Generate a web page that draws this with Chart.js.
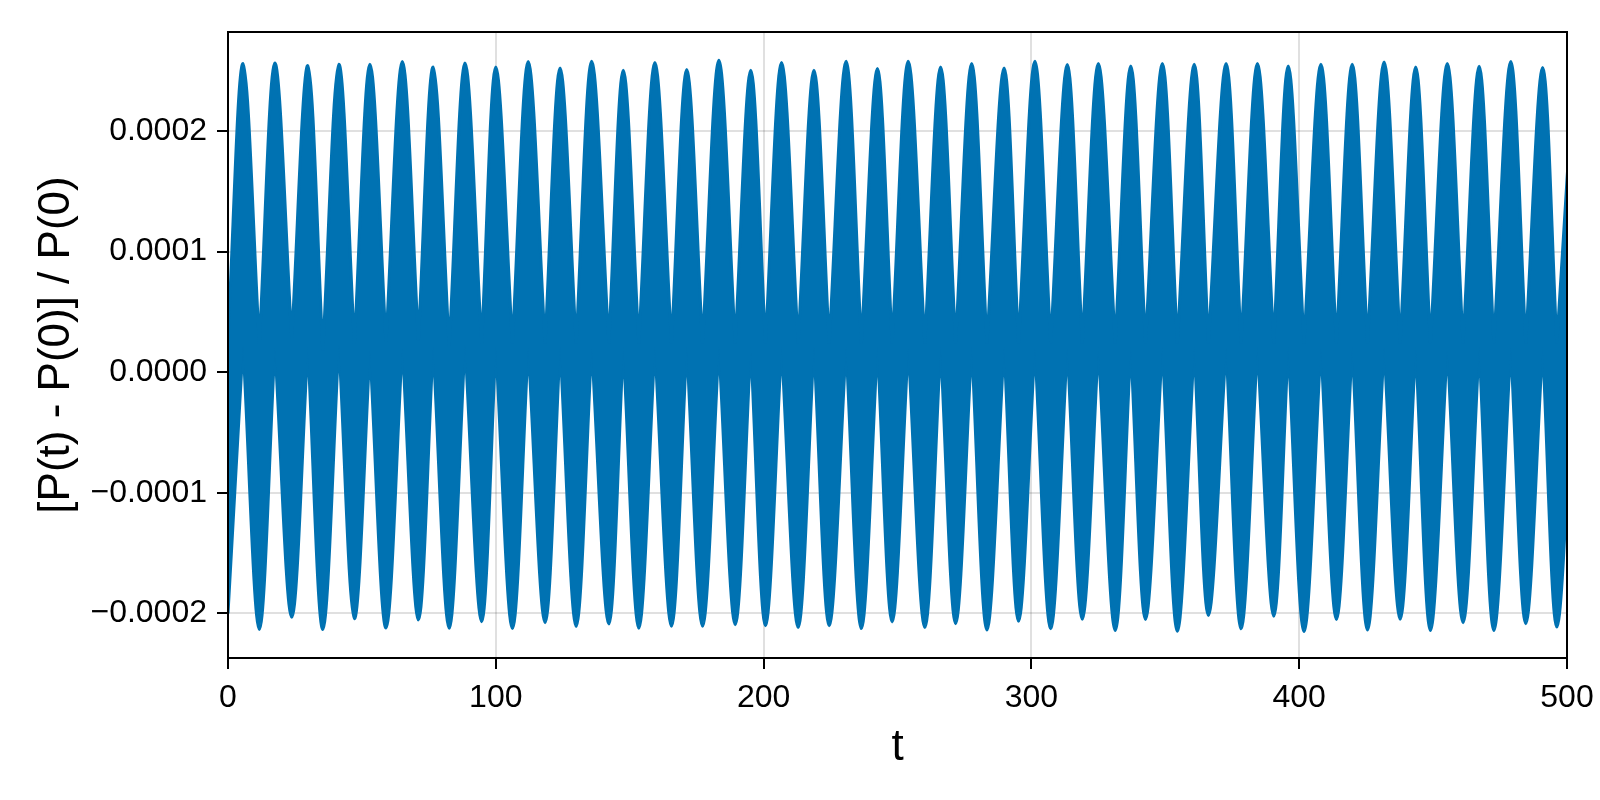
<!DOCTYPE html>
<html><head><meta charset="utf-8">
<script src="https://cdn.jsdelivr.net/npm/chart.js@4.4.1/dist/chart.umd.min.js"></script>
<style>html,body{margin:0;padding:0;background:#fff}#wrap{width:1600px;height:800px;position:relative}</style>
</head><body><div id="wrap"><canvas id="c"></canvas></div>
<script>
// Upper-envelope peaks (time, value)
const peakT = [5.6,17.5,29.8,41.4,53.0,65.1,76.6,88.5,100.0,112.1,124.0,135.8,147.6,159.4,171.3,183.3,195.2,206.7,218.8,230.8,242.5,254.0,266.1,277.7,289.8,301.3,313.4,325.0,337.1,348.9,360.8,372.7,384.4,395.9,408.1,419.8,431.7,443.5,455.3,467.2,479.0,490.9,502.7];
const peakV = [0.0002559,0.0002564,0.0002542,0.0002553,0.0002553,0.0002575,0.0002530,0.0002564,0.0002530,0.0002575,0.0002522,0.0002578,0.0002503,0.0002567,0.0002509,0.0002586,0.0002503,0.0002567,0.0002503,0.0002578,0.0002517,0.0002578,0.0002530,0.0002559,0.0002522,0.0002578,0.0002550,0.0002559,0.0002539,0.0002559,0.0002553,0.0002559,0.0002559,0.0002539,0.0002553,0.0002553,0.0002572,0.0002530,0.0002559,0.0002536,0.0002575,0.0002525,0.0002560];
// Lower-envelope troughs (time, value)
const troughT = [0,11.7,23.8,35.4,47.2,59.0,71.1,82.6,94.7,106.2,118.4,130.0,142.2,153.4,165.6,177.2,189.4,200.7,212.9,224.5,236.5,248.0,260.2,271.7,283.4,295.2,307.2,319.0,331.3,342.6,354.5,366.1,378.3,390.5,401.8,413.9,425.5,437.7,449.0,461.2,472.7,484.6,496.2];
const troughV = [-0.0002000,-0.0002133,-0.0002033,-0.0002133,-0.0002044,-0.0002122,-0.0002055,-0.0002124,-0.0002069,-0.0002126,-0.0002077,-0.0002108,-0.0002088,-0.0002123,-0.0002106,-0.0002106,-0.0002094,-0.0002103,-0.0002117,-0.0002103,-0.0002126,-0.0002071,-0.0002117,-0.0002086,-0.0002137,-0.0002066,-0.0002128,-0.0002049,-0.0002143,-0.0002051,-0.0002148,-0.0002017,-0.0002128,-0.0002023,-0.0002151,-0.0002051,-0.0002137,-0.0002049,-0.0002143,-0.0002077,-0.0002143,-0.0002086,-0.0002114];
// Upper envelope minimum (at trough times) and lower envelope maximum (at peak times)
const upperAtTrough = [0.0000300,0.0000238,0.0000279,0.0000182,0.0000238,0.0000250,0.0000265,0.0000210,0.0000238,0.000024,0.000024,0.000024,0.000024,0.000024,0.000024,0.000024,0.000024,0.000024,0.000024,0.000024,0.000024,0.000024,0.000024,0.000024,0.000024,0.000024,0.000024,0.000024,0.000024,0.000024,0.000024,0.000024,0.000024,0.000024,0.000024,0.000024,0.000024,0.000024,0.000024,0.000024,0.000024,0.000024,0.000024];
const lowerAtPeak = [0.000022,0.000021,0.000021,0.000024,0.000018,0.000022,0.000021,0.000023,0.000021,0.000021,0.000021,0.000021,0.000021,0.000021,0.000021,0.000021,0.000021,0.000021,0.000021,0.000021,0.000021,0.000021,0.000021,0.000021,0.000021,0.000021,0.000021,0.000021,0.000021,0.000021,0.000021,0.000021,0.000021,0.000021,0.000021,0.000021,0.000021,0.000021,0.000021,0.000021,0.000021,0.000021,0.000021];

const xTicks = [0,100,200,300,400,500];
const xTickLabels = ['0','100','200','300','400','500'];
const yTicks = [-0.0002,-0.0001,0,0.0001,0.0002];
const yTickLabels = ['\u22120.0002','\u22120.0001','0.0000','0.0001','0.0002'];
const xLabel = 't';
const yLabel = '[P(t) - P(0)] / P(0)';

const FONT = "'Liberation Sans', Arial, sans-serif";
const BLUE = '#0072B2';

// Envelopes: the envelope minima are sharp (cusp), so their vertex is listed
// twice to make the spline corner there; maxima stay rounded.
const upper = [], lower = [];
const n = troughT.length;
for (let i = 0; i < n; i++) {
  const u = {x: troughT[i], y: upperAtTrough[i]};
  upper.push(u);
  if (i > 0) upper.push({x: u.x, y: u.y});
  lower.push({x: troughT[i], y: troughV[i]});
  if (i < peakT.length) {
    upper.push({x: peakT[i], y: peakV[i]});
    const l = {x: peakT[i], y: lowerAtPeak[i]};
    lower.push(l);
    if (i < peakT.length - 1) lower.push({x: l.x, y: l.y});
  }
}

const frame = {
  id: 'frame',
  afterDatasetsDraw(chart) {
    const {ctx, chartArea: a} = chart;
    ctx.save();
    ctx.strokeStyle = '#000';
    ctx.lineWidth = 2;
    ctx.strokeRect(a.left, a.top, a.right - a.left, a.bottom - a.top);
    ctx.restore();
  }
};

new Chart(document.getElementById('c'), {
  type: 'line',
  data: {
    datasets: [
      {data: upper, borderColor: BLUE, backgroundColor: BLUE, borderWidth: 3, pointRadius: 0,
       fill: '+1', tension: 0.35, clip: 0},
      {data: lower, borderColor: BLUE, backgroundColor: BLUE, borderWidth: 3, pointRadius: 0,
       fill: false, tension: 0.35, clip: 0}
    ]
  },
  options: {
    responsive: true,
    maintainAspectRatio: false,
    animation: false,
    events: [],
    layout: {padding: {top: 32, right: 33, left: 0, bottom: 0}},
    plugins: {legend: {display: false}, tooltip: {enabled: false}},
    scales: {
      x: {
        type: 'linear', min: 0, max: 500,
        afterBuildTicks: s => { s.ticks = xTicks.map(v => ({value: v})); },
        afterFit: s => { s.height = 142; s.paddingLeft = 0; s.paddingRight = 0; },
        grid: {color: 'rgba(0,0,0,0.12)', lineWidth: 2, tickColor: '#000', tickWidth: 2, tickLength: 11, drawTicks: true},
        border: {display: false},
        ticks: {autoSkip: false, maxRotation: 0, padding: 10, color: '#000', font: {family: FONT, size: 32},
                callback: (v, i) => xTickLabels[i]},
        title: {display: true, text: xLabel, color: '#000', font: {family: FONT, size: 44}, padding: {top: 0, bottom: 26}}
      },
      y: {
        type: 'linear', min: -0.000237, max: 0.000282,
        afterBuildTicks: s => { s.ticks = yTicks.map(v => ({value: v})); },
        afterFit: s => { s.width = 228; s.paddingTop = 0; s.paddingBottom = 0; },
        grid: {color: 'rgba(0,0,0,0.12)', lineWidth: 2, tickColor: '#000', tickWidth: 2, tickLength: 11, drawTicks: true},
        border: {display: false},
        ticks: {autoSkip: false, padding: 10, color: '#000', font: {family: FONT, size: 32},
                callback: (v, i) => yTickLabels[i]},
        title: {display: true, text: yLabel, color: '#000', font: {family: FONT, size: 44}, padding: {top: 30, bottom: 0}}
      }
    }
  },
  plugins: [frame]
});
</script></body></html>
